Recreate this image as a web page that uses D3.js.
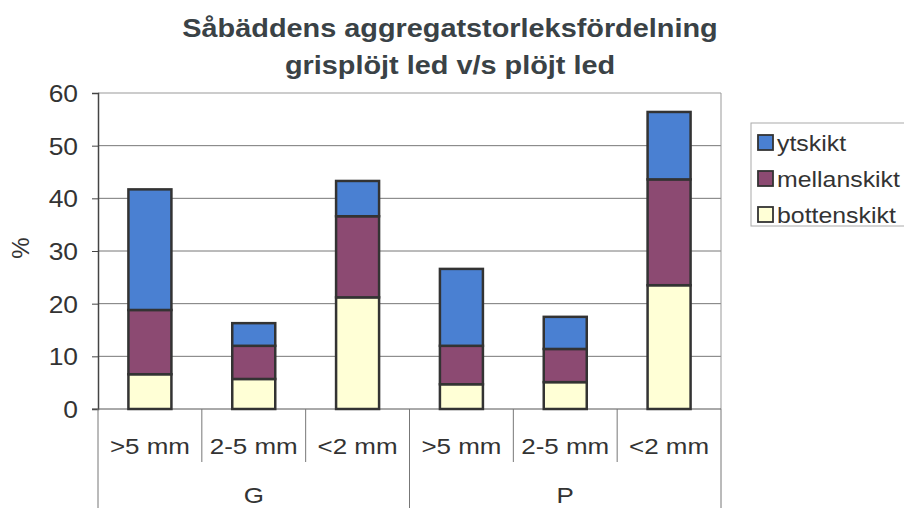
<!DOCTYPE html>
<html><head><meta charset="utf-8">
<script src="https://cdn.jsdelivr.net/npm/d3@7"></script>
<style>body{margin:0;background:#fff}svg{display:block}text{font-family:"Liberation Sans",Arial,sans-serif;fill:#333}</style>
</head><body><svg id="c" width="904" height="508"></svg>
<script>
const groups = ["G","G","G","P","P","P"];
const categories = [">5 mm","2-5 mm","<2 mm",">5 mm","2-5 mm","<2 mm"];
const groupNames = ["G","P"];
const bottenskikt = [6.6, 5.7, 21.2, 4.7, 5.1, 23.5];
const mellanskikt = [12.2, 6.3, 15.4, 7.3, 6.3, 20.1];
const ytskikt = [22.9, 4.3, 6.7, 14.6, 6.1, 12.8];
const seriesNames = ["bottenskikt","mellanskikt","ytskikt"];
const colors = {bottenskikt:"#ffffd6", mellanskikt:"#8c4a72", ytskikt:"#4a80d2"};
const yTicks = [0,10,20,30,40,50,60];

const svg = d3.select("#c");
const L=98, R=721, T=93, B=409;
const x = d3.scaleBand().domain(d3.range(categories.length)).range([L,R]);
const y = d3.scaleLinear().domain([0,60]).range([B,T]);

function stext(g, tx, ty, str, size, anchor, sx, bold){
  return g.append("text").attr("transform",`translate(${tx},${ty}) scale(${sx},1)`)
    .attr("text-anchor",anchor).style("font-size",size+"px").style("font-weight",bold?"bold":"normal").text(str);
}

// title
stext(svg,450,37,"Såbäddens aggregatstorleksfördelning",26,"middle",1.11,true).style("fill","#3a4246");
stext(svg,450,74,"grisplöjt led v/s plöjt led",26,"middle",1.11,true).style("fill","#3a4246");

// grid
svg.append("g").selectAll("line").data(yTicks.filter(d=>d>0)).join("line")
  .attr("x1",L).attr("x2",R).attr("y1",d=>y(d)).attr("y2",d=>y(d))
  .attr("stroke",d=>d===60?"#999":"#777").attr("stroke-width",1);
svg.append("line").attr("x1",R).attr("x2",R).attr("y1",T).attr("y2",B).attr("stroke","#999");

// y axis
const ya = svg.append("g").attr("transform",`translate(${L},0)`).call(d3.axisLeft(y).tickValues(yTicks).tickSize(6).tickFormat(""));
ya.select(".domain").attr("stroke","#444").attr("stroke-width",1.5);
ya.selectAll(".tick line").attr("stroke","#444");
ya.selectAll(".tick").each(function(d){ stext(d3.select(this),-20,8.5,String(d),24,"end",1.1,false); });
svg.append("text").attr("transform","translate(29,248) rotate(-90)").attr("text-anchor","middle").style("font-size","24px").text("%");

// x axis line
svg.append("line").attr("x1",L-6).attr("x2",R).attr("y1",B).attr("y2",B).attr("stroke","#555");

// stacked bars
const data = categories.map((c,i)=>({i, bottenskikt:bottenskikt[i], mellanskikt:mellanskikt[i], ytskikt:ytskikt[i]}));
const stack = d3.stack().keys(seriesNames)(data);
const bw = 43;
svg.append("g").selectAll("g").data(stack).join("g").attr("fill",d=>colors[d.key])
  .selectAll("rect").data(d=>d).join("rect")
  .attr("x",d=>x(d.data.i)+x.bandwidth()/2-bw/2).attr("width",bw)
  .attr("y",d=>y(d[1])).attr("height",d=>y(d[0])-y(d[1]))
  .attr("stroke","#333").attr("stroke-width",2.5);

// category labels & separators
const cl = svg.append("g");
categories.forEach((c,i)=>stext(cl,x(i)+x.bandwidth()/2,454,c,22,"middle",1.18,false));
svg.append("g").selectAll("line").data(d3.range(1,categories.length)).join("line")
  .attr("x1",i=>x(i)).attr("x2",i=>x(i)).attr("y1",B).attr("y2",i=>i===3?508:462)
  .attr("stroke","#777");
svg.append("line").attr("x1",L).attr("x2",L).attr("y1",B).attr("y2",508).attr("stroke","#777");
svg.append("line").attr("x1",R).attr("x2",R).attr("y1",B).attr("y2",508).attr("stroke","#777");
groupNames.forEach(g=>{
  const idx = groups.map((v,i)=>v===g?i:-1).filter(i=>i>=0);
  const cx = (x(idx[0]) + x(idx[idx.length-1])+x.bandwidth())/2;
  stext(svg,cx,503,g,22,"middle",1.18,false);
});

// legend
svg.append("rect").attr("x",751).attr("y",123).attr("width",160).attr("height",103).attr("fill","none").attr("stroke","#aaa");
const legendOrder = ["ytskikt","mellanskikt","bottenskikt"];
legendOrder.forEach((k,i)=>{
  const cy = 142.5 + i*36;
  svg.append("rect").attr("x",758).attr("y",cy-7.5).attr("width",15).attr("height",15).attr("fill",colors[k]).attr("stroke","#333").attr("stroke-width",1.8);
  stext(svg,777,cy+8,k,22,"start",1.13,false);
});
</script></body></html>
